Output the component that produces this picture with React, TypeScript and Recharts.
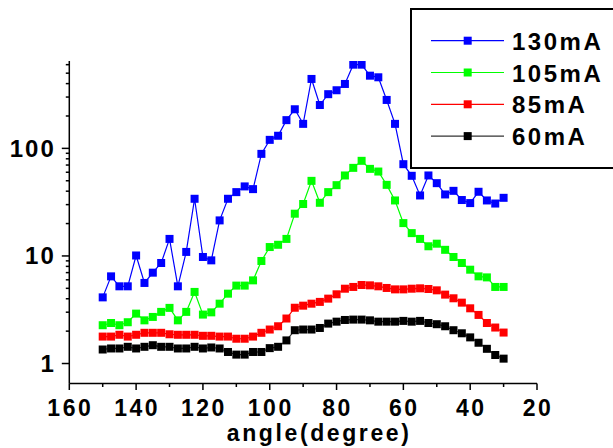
import { LineChart, Line, XAxis, YAxis, Legend, Label } from 'recharts'

const ANGLES = [
  150, 147.5, 145, 142.5, 140, 137.5, 135, 132.5, 130, 127.5, 125, 122.5, 120, 117.5, 115, 112.5, 110,
  107.5, 105, 102.5, 100, 97.5, 95, 92.5, 90, 87.5, 85, 82.5, 80, 77.5, 75, 72.5, 70, 67.5, 65, 62.5,
  60, 57.5, 55, 52.5, 50, 47.5, 45, 42.5, 40, 37.5, 35, 32.5, 30,
]

const I130 = [
  4.12, 6.46, 5.22, 5.22, 10.1, 5.61, 6.99, 8.6, 14.4, 5.22, 10.9, 34, 9.78, 9.1, 21.4, 34, 39.2, 44.3,
  41.8, 88.9, 120, 131, 183, 231, 169, 442, 253, 319, 347, 397, 600, 600, 474, 458, 282, 169, 71.3,
  55.6, 36.5, 56, 47.5, 37.3, 40.3, 33.1, 31, 39.5, 32.8, 30.7, 34.7,
]
const I105 = [
  2.27, 2.38, 2.27, 2.42, 2.91, 2.52, 2.71, 3.02, 3.29, 2.52, 3.02, 4.63, 2.85, 2.99, 3.6, 4.46, 5.3,
  5.3, 5.93, 8.98, 12.1, 12.7, 14.4, 24.7, 30.4, 49.9, 31.2, 39.2, 45.5, 56, 65.9, 76.6, 64.5, 60.9,
  45.8, 32.8, 20.2, 16.3, 14.4, 12.3, 13, 11.4, 9.78, 8.6, 7.45, 6.46, 6.32, 5.15, 5.15,
]
const I85 = [
  1.78, 1.78, 1.85, 1.78, 1.85, 1.93, 1.93, 1.93, 1.87, 1.85, 1.85, 1.85, 1.81, 1.81, 1.78, 1.78, 1.7,
  1.7, 1.78, 1.93, 2.07, 2.22, 2.62, 3.3, 3.45, 3.6, 3.74, 4.01, 4.4, 4.96, 5.15, 5.37, 5.33, 5.22,
  5.04, 4.89, 4.89, 4.96, 5.0, 4.93, 4.79, 4.37, 4.04, 3.68, 3.26, 2.83, 2.38, 2.16, 1.94,
]
const I60 = [
  1.35, 1.38, 1.38, 1.43, 1.38, 1.43, 1.48, 1.43, 1.43, 1.38, 1.38, 1.43, 1.38, 1.41, 1.38, 1.28, 1.21,
  1.21, 1.28, 1.28, 1.39, 1.43, 1.64, 2.04, 2.07, 2.07, 2.14, 2.35, 2.45, 2.54, 2.56, 2.56, 2.52, 2.45,
  2.45, 2.45, 2.49, 2.45, 2.49, 2.38, 2.32, 2.22, 2.04, 1.91, 1.75, 1.56, 1.37, 1.2, 1.11,
]

const SERIES = [
  { key: 'i130', name: '130mA', color: '#0000ff', line: '#0000ff', values: I130 },
  { key: 'i105', name: '105mA', color: '#00ff00', line: '#00ff00', values: I105 },
  { key: 'i85', name: '85mA', color: '#ff0000', line: '#ff0000', values: I85 },
  { key: 'i60', name: '60mA', color: '#000000', line: '#333333', values: I60 },
]

const X_TICKS = [160, 150, 140, 130, 120, 110, 100, 90, 80, 70, 60, 50, 40, 30, 20]
const X_LABELS = [160, 140, 120, 100, 80, 60, 40, 20]
const Y_TICKS = [
  1, 2, 3, 4, 5, 6, 7, 8, 9, 10, 20, 30, 40, 50, 60, 70, 80, 90, 100, 200, 300, 400, 500, 600,
]
const Y_LABELS = [1, 10, 100]

const FONT = '"Liberation Sans", Arial, sans-serif'

const data = ANGLES.map((angle, i) => {
  const row: Record<string, number> = { angle }
  SERIES.forEach((s) => {
    row[s.key] = s.values[i]
  })
  return row
})

function XTick({ x, y, payload }: any) {
  const major = X_LABELS.includes(payload.value)
  return (
    <g>
      <line x1={x} x2={x} y1={y} y2={y + (major ? 6.5 : 3.5)} stroke="#000" strokeWidth={1.5} />
      {major && (
        <text
          x={x + 1}
          y={y + 32}
          textAnchor="middle"
          fontFamily={FONT}
          fontWeight="bold"
          fontSize={23}
          style={{ letterSpacing: 2.5 }}
          fill="#000"
        >
          {payload.value}
        </text>
      )}
    </g>
  )
}

function YTick({ x, y, payload }: any) {
  const major = Y_LABELS.includes(payload.value)
  return (
    <g>
      <line x1={x - (major ? 7.5 : 3.5)} x2={x} y1={y} y2={y} stroke="#000" strokeWidth={1.5} />
      {major && (
        <text
          x={x - 13.5}
          y={y + 8.5}
          textAnchor="end"
          fontFamily={FONT}
          fontWeight="bold"
          fontSize={24}
          style={{ letterSpacing: 2 }}
          fill="#000"
        >
          {payload.value}
        </text>
      )}
    </g>
  )
}

const squareDot = (color: string) => (props: any) => {
  const { cx, cy, index } = props
  if (cx == null || cy == null) return <g key={index} />
  return <rect key={index} x={cx - 4} y={cy - 4} width={8} height={8} fill={color} />
}

function LegendBox() {
  return (
    <div
      style={{
        width: 215,
        height: 157,
        border: '2px solid #000',
        background: '#fff',
      }}
    >
      <svg width={215} height={157} style={{ display: 'block' }}>
        {SERIES.map((s, i) => {
          const cy = 30.7 + i * 31.8
          return (
            <g key={s.key}>
              <line x1={19} x2={92} y1={cy} y2={cy} stroke={s.line} strokeWidth={1.2} />
              <rect x={51.7} y={cy - 4} width={8} height={8} fill={s.color} />
              <text
                x={100}
                y={cy + 9}
                fontFamily={FONT}
                fontWeight="bold"
                fontSize={24}
                style={{ letterSpacing: 2.5 }}
                fill="#000"
              >
                {s.name}
              </text>
            </g>
          )
        })}
      </svg>
    </div>
  )
}

export default function App() {
  return (
    <div
      style={{
        position: 'absolute',
        left: 0,
        top: 0,
        width: 613,
        height: 448,
        overflow: 'hidden',
        background: '#fff',
      }}
    >
      <LineChart
        width={613}
        height={448}
        data={data}
        margin={{ top: 61, right: 76, bottom: 4.5, left: 9.3 }}
      >
        <XAxis
          dataKey="angle"
          type="number"
          domain={[20, 160]}
          reversed
          allowDataOverflow
          ticks={X_TICKS}
          interval={0}
          height={60}
          tickSize={0}
          tickMargin={0}
          tickLine={false}
          axisLine={{ stroke: '#000', strokeWidth: 1.5 }}
          tick={<XTick />}
        >
          <Label
            content={({ viewBox }: any) => (
              <text
                x={viewBox.x + viewBox.width / 2 + 16}
                y={viewBox.y + 57.5}
                textAnchor="middle"
                fontFamily={FONT}
                fontWeight="bold"
                fontSize={23}
                style={{ letterSpacing: 2.6 }}
                fill="#000"
              >
                angle(degree)
              </text>
            )}
          />
        </XAxis>
        <YAxis
          scale="log"
          domain={[0.652, 649]}
          allowDataOverflow
          ticks={Y_TICKS}
          interval={0}
          width={60}
          tickSize={0}
          tickMargin={0}
          tickLine={false}
          axisLine={{ stroke: '#000', strokeWidth: 1.5 }}
          tick={<YTick />}
        />
        <Legend
          layout="horizontal"
          verticalAlign="middle"
          align="center"
          content={() => <LegendBox />}
          wrapperStyle={{ position: 'absolute', left: 410, top: 8, width: 219, height: 161 }}
        />
        {[...SERIES].reverse().map((s) => (
          <Line
            key={s.key}
            dataKey={s.key}
            name={s.name}
            stroke={s.line}
            strokeWidth={1.2}
            dot={squareDot(s.color)}
            activeDot={false}
            isAnimationActive={false}
          />
        ))}
      </LineChart>
    </div>
  )
}
